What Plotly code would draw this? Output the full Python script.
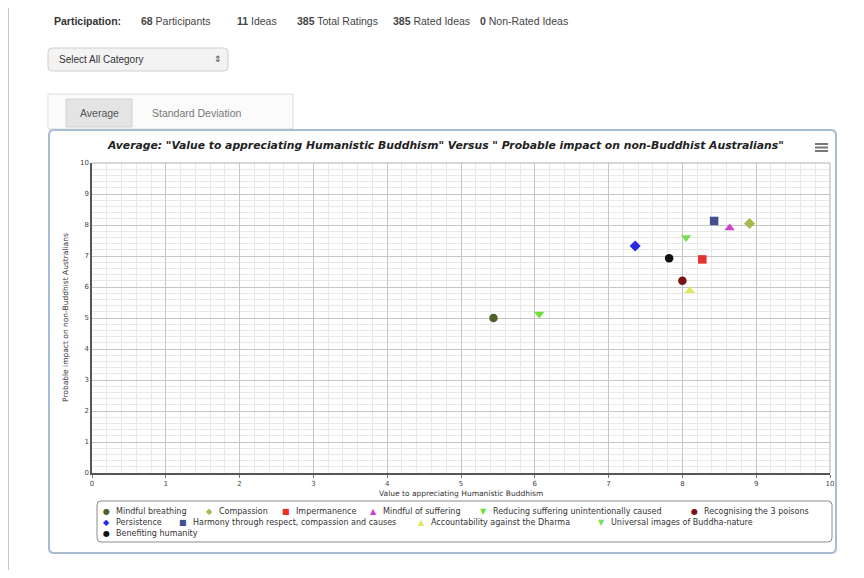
import plotly.graph_objects as go

# ---------------- data ----------------
series_names = [
    "Mindful breathing", "Compassion", "Impermanence", "Mindful of suffering",
    "Reducing suffering unintentionally caused", "Recognising the 3 poisons",
    "Persistence", "Harmony through respect, compassion and causes",
    "Accountability against the Dharma", "Universal images of Buddha-nature",
    "Benefiting humanity",
]
x_values = [5.44, 8.91, 8.27, 8.64, 6.06, 8.00, 7.36, 8.43, 8.10, 8.05, 7.82]
y_values = [5.00, 8.05, 6.89, 7.90, 5.13, 6.20, 7.32, 8.13, 5.88, 7.60, 6.93]
x_ticks = [0, 1, 2, 3, 4, 5, 6, 7, 8, 9, 10]
y_ticks = [0, 1, 2, 3, 4, 5, 6, 7, 8, 9, 10]
stat_values = [68, 11, 385, 385, 0]
stat_labels = ["Participants", "Ideas", "Total Ratings", "Rated Ideas", "Non-Rated Ideas"]

x_title = "Value to appreciating Humanistic Buddhism"
y_title = "Probable impact on non-Buddhist Australians"
chart_title = ('Average: "' + x_title + '" Versus " ' + y_title + '"')

# ---------------- styles ----------------
series_colors = ["#4f5f2a", "#a3bb4c", "#e53030", "#cf3fcf", "#6ee03a", "#7a1414",
                 "#2a2ae6", "#43508f", "#e1e85a", "#7ade55", "#111111"]
series_symbols = ["circle", "diamond", "square", "triangle-up", "triangle-down",
                  "circle", "diamond", "square", "triangle-up", "triangle-down", "circle"]
symbol_glyph = {"circle": "\u25CF", "diamond": "\u25C6", "square": "\u25A0",
                "triangle-up": "\u25B2", "triangle-down": "\u25BC"}
symbol_size = {"circle": 8.5, "diamond": 8.5, "square": 8.5, "triangle-up": 9, "triangle-down": 9}
# legend layout (screen px): row y, marker x
legend_pos = [(511, 106), (511, 209), (511, 286), (511, 373), (511, 483), (511, 694),
              (522, 106), (522, 183), (522, 421), (522, 601),
              (533, 106)]

CHART_FONT = "DejaVu Sans"
PAGE_FONT = "Liberation Sans"

# plot area in screen pixels
PL, PR, PT, PB = 92, 830, 163, 473
OFF = 8  # body margin of the html page
W, H = 864 - 2 * OFF, 578 - 2 * OFF


def PX(sx):
    return (sx - PL) / (PR - PL)


def PY(sy):
    return (PB - sy) / (PB - PT)


def rrect(x0, y0, x1, y1, r):
    p = [
        f"M{PX(x0 + r)},{PY(y0)}", f"L{PX(x1 - r)},{PY(y0)}",
        f"Q{PX(x1)},{PY(y0)} {PX(x1)},{PY(y0 + r)}", f"L{PX(x1)},{PY(y1 - r)}",
        f"Q{PX(x1)},{PY(y1)} {PX(x1 - r)},{PY(y1)}", f"L{PX(x0 + r)},{PY(y1)}",
        f"Q{PX(x0)},{PY(y1)} {PX(x0)},{PY(y1 - r)}", f"L{PX(x0)},{PY(y0 + r)}",
        f"Q{PX(x0)},{PY(y0)} {PX(x0 + r)},{PY(y0)}", "Z",
    ]
    return " ".join(p)


fig = go.Figure()
for i, name in enumerate(series_names):
    fig.add_trace(go.Scatter(
        x=[x_values[i]], y=[y_values[i]], mode="markers", name=name,
        marker=dict(symbol=series_symbols[i], color=series_colors[i],
                    size=symbol_size[series_symbols[i]], line=dict(width=0)),
        showlegend=False,
    ))

shapes = []
annotations = []


def text(sx, sy, t, size, color="#333", font=CHART_FONT, anchor="left", angle=0):
    annotations.append(dict(
        x=PX(sx), y=PY(sy), xref="paper", yref="paper", text=t, showarrow=False,
        xanchor=anchor, yanchor="middle", textangle=angle,
        font=dict(family=font, size=size, color=color),
    ))


# page left border
shapes.append(dict(type="line", x0=PX(8.5), x1=PX(8.5), y0=PY(8), y1=PY(578), xref="paper",
                   yref="paper", line=dict(color="#c4c4c4", width=1)))

# --- page header ---
text(52, 21, "<b>Participation:</b>", 10.5, "#333", PAGE_FONT)
stat_x = [139, 235, 295, 391, 478]
for sx, v, lab in zip(stat_x, stat_values, stat_labels):
    text(sx, 21, f"<b>{v}</b> {lab}", 10.5, "#444", PAGE_FONT)

# select box
shapes.append(dict(type="path", path=rrect(48, 48, 228, 71, 4), xref="paper", yref="paper",
                   fillcolor="#f3f3f3", line=dict(color="#cfcfcf", width=1), layer="below"))
text(57, 59.5, "Select All Category", 10, "#333", PAGE_FONT)
text(218, 59.5, "\u21D5", 9, "#444", PAGE_FONT, anchor="center")

# tabs
shapes.append(dict(type="rect", x0=PX(48), x1=PX(293), y0=PY(94), y1=PY(129), xref="paper",
                   yref="paper", fillcolor="#fbfbfb", line=dict(color="#dddddd", width=1),
                   layer="below"))
shapes.append(dict(type="rect", x0=PX(66), x1=PX(132), y0=PY(99), y1=PY(127), xref="paper",
                   yref="paper", fillcolor="#e4e4e4", line=dict(color="#d2d2d2", width=1),
                   layer="below"))
text(99, 112.5, "Average", 10.5, "#555", PAGE_FONT, anchor="center")
text(150, 112.5, "Standard Deviation", 10.5, "#777", PAGE_FONT)

# chart panel
shapes.append(dict(type="path", path=rrect(49, 130, 836, 553, 5), xref="paper", yref="paper",
                   fillcolor="rgba(0,0,0,0)", line=dict(color="#a9bcd6", width=2), layer="above"))

# title
text(445, 146, "<b><i>" + chart_title + "</i></b>", 10.8, "#222", CHART_FONT, anchor="center")

# hamburger
for hy in (144, 147.5, 151):
    shapes.append(dict(type="line", x0=PX(815), x1=PX(828), y0=PY(hy), y1=PY(hy),
                       xref="paper", yref="paper", line=dict(color="#777", width=2)))

# plot frame (top, right)
shapes.append(dict(type="line", x0=0, x1=1, y0=1, y1=1, xref="paper", yref="paper",
                   line=dict(color="#b0b0b0", width=1)))
shapes.append(dict(type="line", x0=1, x1=1, y0=0, y1=1, xref="paper", yref="paper",
                   line=dict(color="#b0b0b0", width=1)))

# axis titles
text(461, 493, x_title, 7.5, "#333")
annotations[-1]["xanchor"] = "center"
text(65, 318, y_title, 7.5, "#333", anchor="center", angle=-90)

# legend
shapes.append(dict(type="path", path=rrect(97, 501, 832, 542, 4), xref="paper", yref="paper",
                   fillcolor="rgba(0,0,0,0)", line=dict(color="#8c8c8c", width=1), layer="above"))
for i, name in enumerate(series_names):
    ly, lx = legend_pos[i]
    text(lx, ly, symbol_glyph[series_symbols[i]], 8, series_colors[i], CHART_FONT, anchor="center")
    text(lx + 8, ly, name, 8, "#333")

axis_common = dict(
    showgrid=True, gridcolor="#c6c6c6", gridwidth=1, zeroline=False,
    showline=True, linecolor="#555", linewidth=1.5,
    minor=dict(dtick=0.2, showgrid=True, gridcolor="#e8e8e8", gridwidth=1),
    tickfont=dict(family=CHART_FONT, size=7, color="#444"),
    fixedrange=True,
)

fig.update_layout(
    width=W, height=H,
    margin=dict(l=PL - OFF, r=W - (PR - OFF), t=PT - OFF, b=H - (PB - OFF), pad=0,
                autoexpand=False),
    paper_bgcolor="white", plot_bgcolor="white",
    xaxis=dict(range=[0, 10], tickvals=x_ticks, ticks="outside", ticklen=3,
               tickcolor="#777", **axis_common),
    yaxis=dict(range=[0, 10], tickvals=y_ticks, ticks="", **axis_common),
    shapes=shapes, annotations=annotations, showlegend=False,
)

fig.write_html("out.html")
